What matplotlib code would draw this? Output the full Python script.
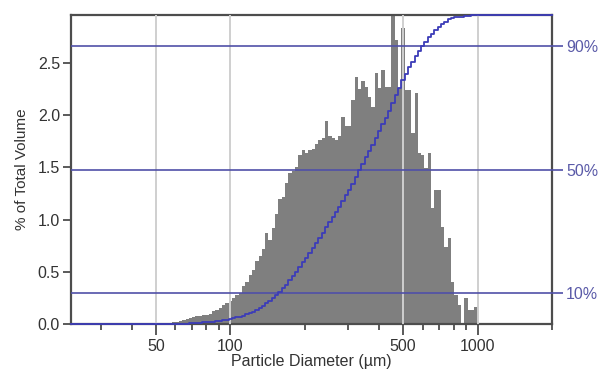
import numpy as np
import matplotlib
matplotlib.use("Agg")
import matplotlib.pyplot as plt
from matplotlib.ticker import FixedLocator, NullFormatter

plt.rcParams['font.family'] = ['Liberation Sans', 'DejaVu Sans']

# Histogram bins (particle diameter, µm), log-spaced
bin_lo_um = 56.5
bin_hi_um = 1000.0
n_bins = 93
bin_edges = np.geomspace(bin_lo_um, bin_hi_um, n_bins + 1)

# % of total volume per bin
volume_pct = [
    0.01, 0.02, 0.02, 0.03, 0.04, 0.05, 0.06, 0.07, 0.08, 0.08,
    0.09, 0.09, 0.10, 0.12, 0.13, 0.15, 0.18, 0.20, 0.22, 0.25,
    0.28, 0.30, 0.36, 0.40, 0.47, 0.52, 0.60, 0.65, 0.72, 0.87,
    0.80, 0.92, 1.05, 1.20, 1.22, 1.35, 1.45, 1.47, 1.50, 1.62,
    1.67, 1.64, 1.67, 1.68, 1.72, 1.76, 1.78, 1.94, 1.80, 1.78,
    1.76, 1.80, 1.98, 1.90, 1.90, 2.15, 2.37, 2.25, 2.33, 2.27,
    2.17, 2.08, 2.40, 2.26, 2.43, 2.27, 2.27, 3.00, 2.72, 2.26,
    2.84, 2.24, 2.24, 1.83, 2.21, 1.64, 1.62, 1.49, 1.64, 1.11,
    1.28, 1.28, 0.93, 0.74, 0.82, 0.40, 0.28, 0.18, 0.00, 0.25,
    0.13, 0.13, 0.16,
]

pct_lines = [10, 50, 90]
pct_labels = ["10%", "50%", "90%"]
x_major = [50, 100, 500, 1000]
x_major_labels = ["50", "100", "500", "1000"]
x_minor = [30, 40, 60, 70, 80, 90, 200, 300, 400, 600, 700, 800, 900, 2000]
y_ticks = [0.0, 0.5, 1.0, 1.5, 2.0, 2.5]

xmin, xmax = 22.7, 2000
ymax = 2.96

W, H = 598, 373
fig = plt.figure(figsize=(W / 100, H / 100), dpi=100)
ax = fig.add_axes([71 / W, (H - 324) / H, (552 - 71) / W, (324 - 15) / H])

vals = np.array(volume_pct)
ax.stairs(vals, bin_edges, fill=True, color="#7f7f7f", linewidth=0, zorder=2)

for xv in x_major:
    ax.axvline(xv, color="#cfcfcf", lw=1.4, zorder=3)

ax.set_xscale("log")
ax.set_xlim(xmin, xmax)
ax.set_ylim(0, ymax)

ax.xaxis.set_major_locator(FixedLocator(x_major))
ax.set_xticklabels(x_major_labels)
ax.xaxis.set_minor_locator(FixedLocator(x_minor))
ax.xaxis.set_minor_formatter(NullFormatter())
ax.set_yticks(y_ticks)
ax.set_yticklabels([f"{v:.1f}" for v in y_ticks])

spine_c = "#4d4d4d"
for s in ax.spines.values():
    s.set_color(spine_c)
    s.set_linewidth(1.6)
ax.tick_params(axis="both", which="major", direction="out", width=1.3,
               color=spine_c, labelcolor="#333333", labelsize=11.5)
ax.tick_params(axis="x", which="minor", direction="out", length=4, width=1.3, color=spine_c)
ax.tick_params(axis="x", which="major", length=8, pad=3)
ax.tick_params(axis="y", which="major", length=6, pad=2)
ax.set_xlabel("Particle Diameter (µm)", fontsize=11.5, color="#333333", labelpad=0)
ax.set_ylabel("% of Total Volume", fontsize=11, color="#333333", labelpad=6)

# Cumulative axis
ax2 = ax.twinx()
ax2.set_ylim(0, 100)
ax2.set_xlim(xmin, xmax)
for p in pct_lines:
    ax2.axhline(p, color="#5050a8", lw=1.2, zorder=4)

cum = np.cumsum(vals)
cum = cum / cum[-1] * 100
xs = np.concatenate([[xmin], bin_edges, [xmax]])
ys = np.concatenate([[0, 0], cum, [100]])
ax2.step(xs, ys, where="pre", color="#3c3cb8", lw=1.3, zorder=5, clip_on=False)

ax2.set_yticks(pct_lines)
ax2.set_yticklabels(pct_labels)
ax2.tick_params(axis="y", direction="out", length=8, width=1.2, color="#5050a8",
                labelcolor="#5a5aa8", labelsize=11.5, pad=2)
for s in ax2.spines.values():
    s.set_visible(False)

fig.savefig("out.png", dpi=100)
